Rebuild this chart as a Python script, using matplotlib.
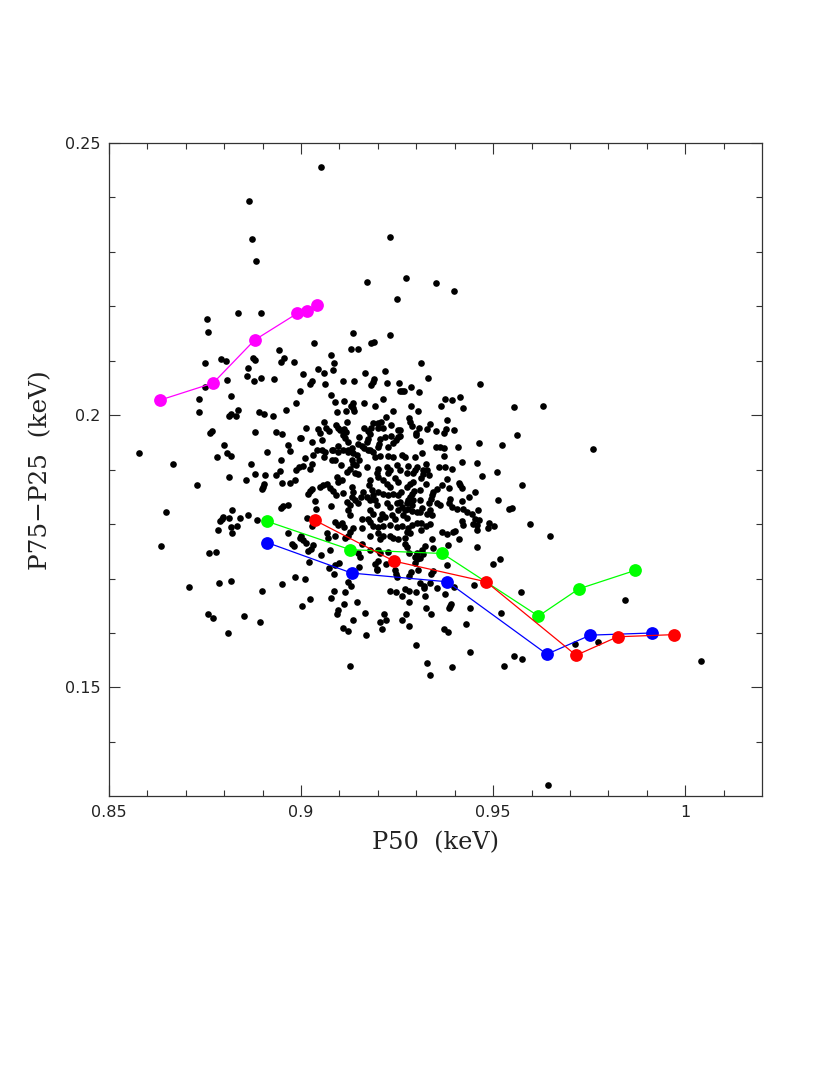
import matplotlib
matplotlib.use("Agg")
import matplotlib.pyplot as plt

top_x = [.9053, .8864, .8871, .8882, .8754, .8759, .8837, .8897, .9033, .8942, .8956, .8947, .8982, .8876, .8879, .8791, .8804,
         .8751, .9078, .9232, .9172, .9273, .9352, .9398, .9251, .9135, .9232, .9182, .9191, .9131, .9148, .9086, .9311]
top_y = [.2456, .2393, .2323, .2283, .2176, .2153, .2188, .2188, .2132, .2120, .2106, .2098, .2098, .2105, .2102, .2103, .2099,
         .2096, .2111, .2327, .2244, .2252, .2243, .2228, .2213, .2151, .2147, .2132, .2135, .2121, .2121, .2096, .2096]

upper_x = [.8861, .8859, .8878, .8897, .8930, .8807, .8750, .8818, .8734, .8997, .8988, .8734, .8836, .8817, .8813, .8830, .8891, .8904, .8927, .8962,
           .9083, .9045, .9060, .9006, .9167, .9218, .9028, .9023, .9063, .9108, .9137, .9190, .9186, .9182, .9223, .9256, .9077, .9258,
           .9088, .9113, .9136, .9129, .9136, .9138, .9164, .9213, .9193, .9239, .9093, .9116, .9222, .9330, .9466, .9285, .9262, .9268,
           .9307, .9415, .9375, .9392, .9365, .9422, .9285, .9305, .9281, .9381, .9555, .9630]
upper_y = [.2087, .2072, .2063, .2069, .2066, .2065, .2051, .2035, .2029, .2045, .2023, .2006, .2009, .2003, .1998, .1998, .2006, .2002, .1999, .2010,
           .2083, .2085, .2078, .2075, .2078, .2082, .2063, .2058, .2058, .2063, .2063, .2066, .2061, .2055, .2059, .2060, .2038, .2045,
           .2024, .2027, .2022, .2017, .2013, .2008, .2023, .2029, .2017, .2008, .2005, .2007, .1996, .2068, .2058, .2051, .2045, .2044,
           .2042, .2034, .2030, .2028, .2017, .2014, .2017, .2008, .1994, .1992, .2015, .2017]

core_nw_x = [.9208, .9200, .9186, .9060, .9120, .9091, .9097, .9102, .9113, .9116, .9108, .9115, .9012, .9045, .9049, .9064, .9074,
             .9164, .9173, .9182, .9180, .9174, .9171, .9201, .9214, .9235, .9253, .9206, .9219, .9234, .9252, .9247, .9240,
             .9001, .9054, .9029, .9152, .9123, .9096, .9149, .9158, .9203, .9201, .9227, .9042, .9054, .9080, .9123, .9132,
             .9164, .9175, .9084, .9097, .9110, .9123, .9136, .9145, .9180, .9188, .9063, .9060, .9193, .9206, .9227, .9240,
             .9132, .9152, .9080, .9089, .9009, .9032]
core_nw_y = [.1988, .1986, .1986, .1987, .1987, .1982, .1977, .1972, .1974, .1969, .1963, .1958, .1977, .1974, .1968, .1977, .1971,
             .1977, .1971, .1976, .1966, .1957, .1951, .1976, .1976, .1982, .1972, .1957, .1960, .1962, .1960, .1954, .1949,
             .1959, .1955, .1950, .1960, .1950, .1944, .1947, .1943, .1947, .1942, .1942, .1937, .1936, .1937, .1937, .1939,
             .1939, .1936, .1936, .1933, .1936, .1933, .1930, .1926, .1936, .1933, .1933, .1923, .1923, .1925, .1925, .1923,
             .1917, .1917, .1917, .1917, .1922, .1926]

left_x = [.8799, .8769, .8764, .8880, .8936, .8951, .8997, .8967, .8970, .8911, .8807, .8818, .8781, .8578, .8667, .8949, .8870,
          .8995, .8988, .8945, .8935, .8880, .8905, .8813, .8856, .8985, .8971, .8951, .8904, .8902, .8899, .8728, .8649,
          .8965, .8954, .8949, .8820, .8862, .8841, .8813, .8798, .8793, .8789, .8885, .8833, .8817, .8784, .8821, .8965, .8997,
          .8635, .8760, .8778, .8982, .8984, .8951, .8899, .8818, .8787, .8708, .8757, .8772, .8852, .8892, .8809]
left_y = [.1946, .1971, .1967, .1970, .1969, .1966, .1959, .1945, .1935, .1933, .1931, .1925, .1923, .1931, .1911, .1918, .1910,
          .1905, .1899, .1897, .1891, .1892, .1890, .1887, .1881, .1881, .1876, .1876, .1874, .1869, .1865, .1872, .1822,
          .1835, .1833, .1829, .1826, .1817, .1811, .1812, .1813, .1810, .1806, .1808, .1797, .1794, .1790, .1784, .1784, .1775,
          .1759, .1746, .1749, .1759, .1703, .1690, .1678, .1695, .1692, .1684, .1634, .1627, .1632, .1620, .1600]

core_sw_x = [.9028, .9006, .9023, .9103, .9136, .9128, .9119, .9142, .9171, .9201, .9199, .9201, .9223, .9232, .9227, .9249, .9258,
             .9245, .9253, .9214, .9223, .9232, .9141, .9149, .9093, .9106, .9097, .9180, .9178, .9184, .9132, .9058, .9068, .9076,
             .9084, .9091, .9049, .9028, .9023, .9019, .9110, .9135, .9162, .9201, .9214, .9227, .9188, .9193, .9197, .9240, .9253,
             .9132, .9141, .9149, .9156, .9171, .9180, .9119, .9128, .9123, .9128, .9036, .9078, .9039, .9223, .9232, .9249, .9253,
             .9180, .9188, .9158, .9210, .9219, .9206, .9236, .9245, .9180, .9175, .9015, .9089, .9097, .9106, .9112, .9188, .9201,
             .9214, .9232, .9249, .9028, .9136, .9128, .9123, .9067, .9071, .9089, .9115, .9158, .9180, .9201, .9206, .9214, .9232,
             .9240, .9253, .9000, .9006, .9013, .8976, .9032, .9025, .9019, .9076, .9158, .9180, .9201, .9206, .9227, .9149, .9154, .9052]
core_sw_y = [.1911, .1907, .1902, .1908, .1911, .1902, .1896, .1908, .1905, .1902, .1893, .1887, .1905, .1899, .1893, .1908, .1899,
             .1884, .1877, .1881, .1874, .1868, .1893, .1892, .1887, .1881, .1877, .1881, .1871, .1862, .1869, .1871, .1874, .1867,
             .1861, .1853, .1868, .1865, .1861, .1856, .1857, .1859, .1859, .1859, .1856, .1853, .1853, .1844, .1835, .1856, .1853,
             .1850, .1844, .1838, .1850, .1850, .1844, .1841, .1835, .1825, .1816, .1842, .1833, .1828, .1838, .1831, .1838, .1825,
             .1825, .1819, .1810, .1819, .1813, .1810, .1816, .1810, .1804, .1810, .1811, .1804, .1798, .1802, .1795, .1796, .1795,
             .1796, .1798, .1795, .1796, .1792, .1785, .1779, .1784, .1775, .1778, .1775, .1792, .1778, .1783, .1773, .1779, .1779,
             .1775, .1773, .1778, .1770, .1765, .1764, .1761, .1755, .1751, .1752, .1764, .1752, .1752, .1746, .1749, .1746, .1740, .1744]

core_se_x = [.9262, .9271, .9297, .9316, .9372, .9352, .9362, .9372, .9408, .9284, .9290, .9336, .9307, .9327, .9351, .9377, .9372, .9397,
             .9299, .9299, .9258, .9258, .9309, .9279, .9301, .9297, .9292, .9277, .9326, .9317, .9327, .9318, .9332, .9358, .9375, .9392,
             .9418, .9458, .9470, .9510, .9312, .9379, .9326, .9292, .9284, .9277, .9410, .9414, .9418, .9366, .9353, .9344, .9340, .9338,
             .9384, .9310, .9294, .9288, .9284, .9279, .9275, .9260, .9453, .9436, .9418, .9388, .9310, .9292, .9288, .9514, .9384, .9392,
             .9405, .9353, .9362, .9332, .9258, .9262, .9271, .9279, .9288, .9301, .9314, .9310, .9336, .9329, .9340, .9422, .9431, .9444,
             .9460, .9265, .9275, .9453, .9464, .9448, .9459, .9459, .9420, .9422, .9490, .9503, .9486, .9596, .9647, .9301, .9312, .9336,
             .9326, .9312, .9288, .9279, .9275, .9262, .9366, .9379, .9401, .9395, .9284, .9271, .9411, .9342, .9271, .9275, .9323, .9314,
             .9301, .9297, .9344, .9382, .9457, .9281, .9318, .9310, .9518, .9500]
core_se_y = [.1926, .1923, .1923, .1930, .1925, .1942, .1941, .1939, .1942, .1987, .1980, .1984, .1977, .1974, .1971, .1974, .1968, .1973,
             .1967, .1964, .1972, .1961, .1953, .1907, .1905, .1899, .1893, .1894, .1911, .1899, .1899, .1892, .1890, .1905, .1905, .1901,
             .1914, .1912, .1889, .1895, .1884, .1882, .1873, .1877, .1873, .1868, .1876, .1871, .1867, .1871, .1865, .1859, .1853, .1847,
             .1867, .1863, .1861, .1856, .1850, .1844, .1838, .1859, .1859, .1850, .1842, .1847, .1845, .1844, .1835, .1845, .1838, .1831,
             .1828, .1838, .1835, .1838, .1841, .1831, .1825, .1828, .1824, .1822, .1830, .1822, .1825, .1819, .1816, .1827, .1822, .1819,
             .1825, .1816, .1811, .1810, .1807, .1801, .1798, .1790, .1806, .1798, .1802, .1796, .1792, .1801, .1779, .1802, .1802, .1800,
             .1796, .1790, .1798, .1792, .1786, .1796, .1786, .1781, .1787, .1786, .1783, .1775, .1773, .1772, .1764, .1758, .1760, .1752,
             .1746, .1740, .1756, .1761, .1758, .1746, .1745, .1738, .1735, .1727]

lower_x = [.9020, .9100, .9089, .9074, .9086, .9010, .9152, .9193, .9199, .9197, .9201, .9221, .9301, .9297, .9305, .9286, .9280,
           .9245, .9247, .9250, .9344, .9337, .9381, .9123, .9129, .9086, .9115, .9078, .9023, .9003, .9113, .9145, .9095, .9093,
           .9167, .9135, .9109, .9123, .9170, .9217, .9206, .9221, .9212, .9273, .9263, .9281, .9231, .9248, .9262, .9271, .9280,
           .9300, .9280, .9322, .9310, .9319, .9321, .9336, .9353, .9375, .9397, .9325, .9337, .9390, .9387, .9384, .9440, .9430,
           .9371, .9382, .9300, .9440, .9329, .9393, .9336, .9127]
lower_y = [.1730, .1729, .1724, .1720, .1709, .1699, .1721, .1727, .1718, .1715, .1733, .1726, .1735, .1729, .1715, .1712, .1705,
           .1715, .1709, .1702, .1713, .1708, .1724, .1694, .1686, .1678, .1675, .1665, .1662, .1650, .1653, .1656, .1642, .1635,
           .1637, .1624, .1610, .1604, .1597, .1635, .1621, .1624, .1608, .1634, .1623, .1612, .1677, .1676, .1668, .1681, .1678,
           .1675, .1656, .1667, .1692, .1686, .1683, .1691, .1683, .1672, .1684, .1645, .1635, .1653, .1649, .1646, .1645, .1616,
           .1607, .1601, .1577, .1565, .1544, .1537, .1522, .1539]

right_x = [.9561, .9522, .9760, .9464, .9576, .9549, .9542, .9451, .9573, .9844, .9520, .9714, .9773, .9555, .9576, .9528, 1.0042, .9644]
right_y = [.1963, .1945, .1938, .1949, .1871, .1830, .1828, .1688, .1675, .1661, .1637, .1579, .1584, .1558, .1553, .1539, .1549, .1320]

# the four tracks
magenta_x = [.8634, .8771, .8879, .8990, .9016, .9042]
magenta_y = [.2028, .2059, .2138, .2187, .2192, .2202]
green_x = [.8912, .9128, .9368, .9618, .9723, .9870]
green_y = [.1805, .1753, .1746, .1631, .1681, .1715]
blue_x = [.8912, .9132, .9381, .9640, .9753, .9913]
blue_y = [.1766, .1710, .1694, .1561, .1596, .1600]
red_x = [.9036, .9242, .9482, .9716, .9824, .9972]
red_y = [.1807, .1732, .1694, .1559, .1593, .1597]

groups = [(top_x, top_y), (upper_x, upper_y), (core_nw_x, core_nw_y), (left_x, left_y),
          (core_sw_x, core_sw_y), (core_se_x, core_se_y), (lower_x, lower_y), (right_x, right_y)]
tracks = [(magenta_x, magenta_y, "#ff00ff"), (green_x, green_y, "#00ff00"),
          (blue_x, blue_y, "#0000ff"), (red_x, red_y, "#ff0000")]

xticks = [0.85, 0.9, 0.95, 1.0]
xlabels = ["0.85", "0.9", "0.95", "1"]
yticks = [0.15, 0.2, 0.25]
ylabels = ["0.15", "0.2", "0.25"]
xminor = [0.86, 0.87, 0.88, 0.89, 0.91, 0.92, 0.93, 0.94, 0.96, 0.97, 0.98, 0.99, 1.01]
yminor = [0.14, 0.16, 0.17, 0.18, 0.19, 0.21, 0.22, 0.23, 0.24]

fig = plt.figure(figsize=(8.3, 10.75), dpi=100)
ax = fig.add_axes([109 / 830, (1075 - 796.3) / 1075, 653 / 830, 653.3 / 1075])

for gx, gy in groups:
    ax.scatter(gx, gy, s=23, color="black", linewidths=0, zorder=2)

for tx, ty, col in tracks:
    ax.plot(tx, ty, "-", color=col, lw=0.9, marker="o", ms=9.2, mew=0, zorder=3)

ax.set_xlim(0.85, 1.02)
ax.set_ylim(0.13, 0.25)
ax.set_xticks(xticks, xlabels, fontsize=11.5, family="DejaVu Sans", color="#222222")
ax.set_yticks(yticks, ylabels, fontsize=11.5, family="DejaVu Sans", color="#222222")
ax.set_xticks(xminor, minor=True)
ax.set_yticks(yminor, minor=True)
ax.tick_params(which="both", direction="in", top=True, right=True, color="#333333", width=0.8)
ax.tick_params(which="major", length=8)
ax.tick_params(axis="x", which="major", pad=6)
ax.tick_params(axis="y", which="major", pad=6)
ax.tick_params(which="minor", length=4)
for s in ax.spines.values():
    s.set_linewidth(0.9)
    s.set_color("#333333")

fig.text(435.5 / 830, 1 - 843 / 1075, "P50  (keV)", ha="center", va="center", fontsize=17.3, family="DejaVu Serif", color="#222222")
fig.text(41 / 830, 1 - 470 / 1075, "P75\u2212P25  (keV)", ha="center", va="center", rotation=90, fontsize=17.8, family="DejaVu Serif", color="#222222")

fig.savefig("out.png", dpi=100)
